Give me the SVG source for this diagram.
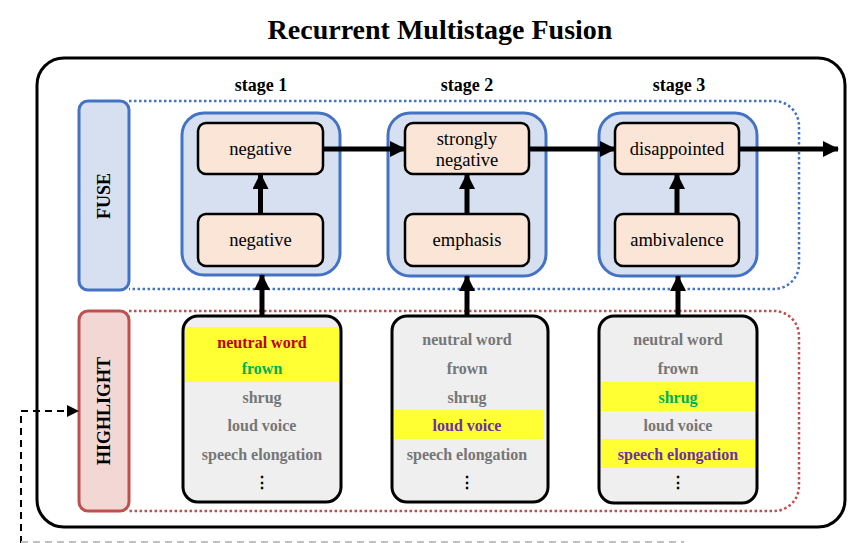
<svg xmlns="http://www.w3.org/2000/svg" width="862" height="543" viewBox="0 0 862 543">
<style>
text{font-family:"Liberation Serif","Times New Roman",serif}
.title{font-weight:bold;font-size:28px;fill:#000;text-anchor:middle}
.stage{font-weight:bold;font-size:18px;fill:#000;text-anchor:middle}
.side{font-weight:bold;font-size:18px;fill:#000;text-anchor:middle;dominant-baseline:central}
.lbl{font-size:18.5px;fill:#000;text-anchor:middle}
.hl{font-weight:bold;font-size:16px;fill:#767676;text-anchor:middle}
.red{fill:#c00000}.green{fill:#00b050}.purple{fill:#7030a0}
.dots{fill:#000}
.container{fill:#d6e0f0;stroke:#4472c4;stroke-width:3}
.inner{fill:#fbe5d6;stroke:#000;stroke-width:2.5}
.list{fill:#efefef;stroke:#000;stroke-width:3}
.yel{fill:#ffff33}
.arrow{stroke:#000;stroke-width:5;fill:none;marker-end:url(#ah)}
</style>
<defs>
<marker id="ah" markerUnits="userSpaceOnUse" markerWidth="16" markerHeight="16" viewBox="0 0 16 16" refX="15" refY="8" orient="auto">
<path d="M0,0 L16,8 L0,16 Z" fill="#000"/>
</marker>
<marker id="ah2" markerUnits="userSpaceOnUse" markerWidth="12" markerHeight="12" viewBox="0 0 12 12" refX="11" refY="6" orient="auto">
<path d="M0,0 L12,6 L0,12 Z" fill="#000"/>
</marker>
</defs>
<rect width="862" height="543" fill="#fff"/>
<text class="title" x="440" y="39">Recurrent Multistage Fusion</text>
<rect x="37" y="58" width="808" height="469" rx="27" fill="none" stroke="#000" stroke-width="3"/>
<g id="stage-labels">
<text class="stage" x="261" y="91">stage 1</text>
<text class="stage" x="467" y="91">stage 2</text>
<text class="stage" x="679" y="91">stage 3</text>
</g>
<g id="fuse-region">
<path d="M129,101 H774 A25,25 0 0 1 799,126 V264 A25,25 0 0 1 774,289 H129" fill="none" stroke="#4472c4" stroke-width="2.5" stroke-dasharray="2.5 2.5"/>
<rect x="79" y="101" width="50" height="189" rx="9" fill="#d6e0f0" stroke="#4472c4" stroke-width="3"/>
<text class="side" transform="translate(104,196) rotate(-90)">FUSE</text>
</g>
<g id="highlight-region">
<path d="M129,311 H774 A25,25 0 0 1 799,336 V486 A25,25 0 0 1 774,511 H129" fill="none" stroke="#c0504d" stroke-width="2.5" stroke-dasharray="2.5 2.5"/>
<rect x="79" y="311" width="50" height="200" rx="9" fill="#f2d7d5" stroke="#c0504d" stroke-width="3"/>
<text class="side" transform="translate(104,411) rotate(-90)">HIGHLIGHT</text>
</g>
<g id="stage1-fuse">
<rect class="container" x="182" y="113" width="158" height="162" rx="22"/>
<g id="s1-top"><rect class="inner" x="198" y="123" width="125" height="51" rx="8"/><text class="lbl" x="260.5" y="155">negative</text></g>
<g id="s1-bottom"><rect class="inner" x="198" y="214" width="125" height="52" rx="8"/><text class="lbl" x="260.5" y="246">negative</text></g>
</g>
<g id="stage2-fuse">
<rect class="container" x="388" y="113" width="158" height="163" rx="22"/>
<g id="s2-top"><rect class="inner" x="405" y="123" width="124" height="51" rx="8"/><text class="lbl" x="467" y="145">strongly</text><text class="lbl" x="467" y="166">negative</text></g>
<g id="s2-bottom"><rect class="inner" x="405" y="214" width="124" height="52" rx="8"/><text class="lbl" x="467" y="246">emphasis</text></g>
</g>
<g id="stage3-fuse">
<rect class="container" x="599" y="113" width="158" height="163" rx="22"/>
<g id="s3-top"><rect class="inner" x="615" y="123" width="124" height="51" rx="8"/><text class="lbl" x="677" y="155">disappointed</text></g>
<g id="s3-bottom"><rect class="inner" x="615" y="214" width="124" height="52" rx="8"/><text class="lbl" x="677" y="246">ambivalence</text></g>
</g>
<g id="stage1-highlight">
<rect class="list" x="183" y="316" width="158" height="186" rx="15"/>
<rect class="yel" x="185" y="327" width="154" height="55"/>
<text class="hl red" x="262" y="348">neutral word</text>
<text class="hl green" x="262" y="374">frown</text>
<text class="hl" x="262" y="403">shrug</text>
<text class="hl" x="262" y="431">loud voice</text>
<text class="hl" x="262" y="460">speech elongation</text>
<text class="hl dots" x="262" y="488">⋮</text>
</g>
<g id="stage2-highlight">
<rect class="list" x="392" y="316" width="156" height="186" rx="15"/>
<rect class="yel" x="394" y="410" width="150" height="29"/>
<text class="hl" x="467" y="345">neutral word</text>
<text class="hl" x="467" y="374">frown</text>
<text class="hl" x="467" y="403">shrug</text>
<text class="hl purple" x="467" y="431">loud voice</text>
<text class="hl" x="467" y="460">speech elongation</text>
<text class="hl dots" x="467" y="488">⋮</text>
</g>
<g id="stage3-highlight">
<rect class="list" x="599" y="316" width="158" height="187" rx="15"/>
<rect class="yel" x="601" y="382" width="154" height="29"/>
<rect class="yel" x="601" y="439" width="154" height="29"/>
<text class="hl" x="678" y="345">neutral word</text>
<text class="hl" x="678" y="374">frown</text>
<text class="hl green" x="678" y="403">shrug</text>
<text class="hl" x="678" y="431">loud voice</text>
<text class="hl purple" x="678" y="460">speech elongation</text>
<text class="hl dots" x="678" y="488">⋮</text>
</g>
<g id="connectors">
<line class="arrow" x1="323" y1="149" x2="405" y2="149"/>
<line class="arrow" x1="529" y1="149" x2="615" y2="149"/>
<line class="arrow" x1="739" y1="149" x2="838" y2="149"/>
<line class="arrow" x1="260.5" y1="214" x2="260.5" y2="174"/>
<line class="arrow" x1="467" y1="214" x2="467" y2="174"/>
<line class="arrow" x1="677" y1="214" x2="677" y2="174"/>
<line class="arrow" x1="262" y1="316" x2="262" y2="275"/>
<line class="arrow" x1="467" y1="316" x2="467" y2="276"/>
<line class="arrow" x1="678" y1="316" x2="678" y2="276"/>
<path d="M21,543 V411 H78" fill="none" stroke="#000" stroke-width="2" stroke-dasharray="7 5" marker-end="url(#ah2)"/>
<line x1="21" y1="542" x2="684" y2="542" stroke="#c0c0c0" stroke-width="2" stroke-dasharray="7 5"/>
</g>
</svg>
